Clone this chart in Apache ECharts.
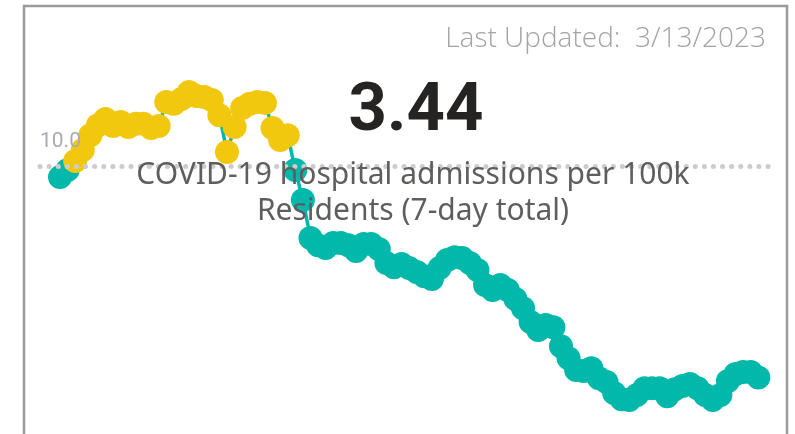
<!DOCTYPE html>
<html>
<head>
<meta charset="utf-8">
<title>COVID-19 hospital admissions</title>
<script src="https://cdn.jsdelivr.net/npm/echarts@6/dist/echarts.min.js"></script>
<style>
    html, body { margin: 0; padding: 0; background: #fff; }
    #hosp-card-chart { width: 795px; height: 434px; }
</style>
</head>
<body>
<div id="hosp-card-chart"></div>
<script>

// 7-day total admissions per 100k, one point per day
var admissions = [
    9.65, 9.87, 10.15, 10.49, 10.95, 11.26, 11.45, 11.23, 11.36, 11.20,
    11.30, 11.30, 11.17, 11.23, 11.98, 11.92, 12.07, 12.29, 12.16, 12.13,
    12.04, 11.57, 10.43, 11.20, 11.79, 11.92, 11.98, 11.95, 11.17, 10.80,
    10.95, 9.87, 8.94, 7.76, 7.54, 7.45, 7.61, 7.61, 7.54, 7.36,
    7.58, 7.58, 7.42, 6.99, 6.86, 6.96, 6.83, 6.71, 6.58, 6.49,
    6.83, 7.08, 7.17, 7.14, 6.99, 6.77, 6.31, 6.15, 6.31, 6.15,
    5.87, 5.59, 5.16, 4.91, 5.07, 5.00, 4.41, 4.04, 3.67, 3.64,
    3.73, 3.42, 3.30, 2.96, 2.77, 2.74, 2.90, 3.11, 3.11, 3.11,
    2.86, 3.08, 3.18, 3.24, 3.11, 2.90, 2.74, 2.90, 3.33, 3.55,
    3.61, 3.61, 3.44
];
var threshold = 10.0;
var currentValue = '3.44';
var lastUpdated = '3/13/2023';
var cardTitle = 'COVID-19 hospital admissions per 100k\nResidents (7-day total)';

var TEAL = '#01B8AA';
var YELLOW = '#F2C80F';

var points = [];
for (var i = 0; i < admissions.length; i++) {
    points.push([i, admissions[i]]);
}

var hosp_card_chart = echarts.init(document.getElementById('hosp-card-chart'));

hosp_card_chart.setOption({
    backgroundColor: '#ffffff',
    animation: false,
    grid: {
        left: 40,
        right: 18,
        top: 69,
        height: 355
    },
    xAxis: {
        type: 'value',
        min: -2.635,
        max: 94.46,
        show: false
    },
    yAxis: {
        type: 'value',
        min: 2,
        max: 13,
        show: false
    },
    graphic: [
        {
            // card border
            type: 'rect',
            shape: { x: 24, y: 6, width: 763, height: 440 },
            style: { fill: 'none', stroke: '#9a9a9a', lineWidth: 2.5 },
            z: 0,
            silent: true
        },
        {
            type: 'text',
            right: 29,
            top: 25,
            style: {
                text: 'Last Updated:  ' + lastUpdated,
                fontFamily: 'Open Sans',
                fontWeight: 300,
                fontSize: 28,
                fill: '#a3a3a3'
            },
            z: 10
        },
        {
            type: 'text',
            x: 416,
            y: 80,
            style: {
                text: currentValue,
                fontFamily: 'Roboto',
                fontWeight: 'bold',
                fontSize: 67,
                fill: '#252423',
                align: 'center'
            },
            z: 10
        },
        {
            type: 'text',
            x: 413,
            y: 157,
            style: {
                text: cardTitle,
                fontFamily: 'Noto Sans',
                fontSize: 30,
                lineHeight: 36,
                fill: '#605e5c',
                align: 'center'
            },
            z: 10
        }
    ],
    series: [
        {
            // reference line only, kept under the markers
            type: 'line',
            data: [],
            z: 1,
            silent: true,
            markLine: {
                silent: true,
                symbol: 'none',
                data: [{ yAxis: threshold }],
                lineStyle: {
                    color: '#cccccc',
                    width: 5,
                    type: [0.1, 9],
                    cap: 'round'
                },
                label: {
                    position: 'insideStartTop',
                    distance: [0, 14],
                    formatter: threshold.toFixed(1),
                    fontFamily: 'Roboto',
                    fontSize: 21,
                    color: '#a9abb3'
                }
            }
        },
        {
            name: 'admissions',
            type: 'line',
            z: 3,
            data: points,
            symbol: 'circle',
            symbolSize: 24,
            showAllSymbol: true,
            lineStyle: {
                color: TEAL,
                width: 3.5
            },
            itemStyle: {
                color: function (p) {
                    return p.value[1] > threshold ? YELLOW : TEAL;
                }
            }
        }
    ]
});

</script>
</body>
</html>
